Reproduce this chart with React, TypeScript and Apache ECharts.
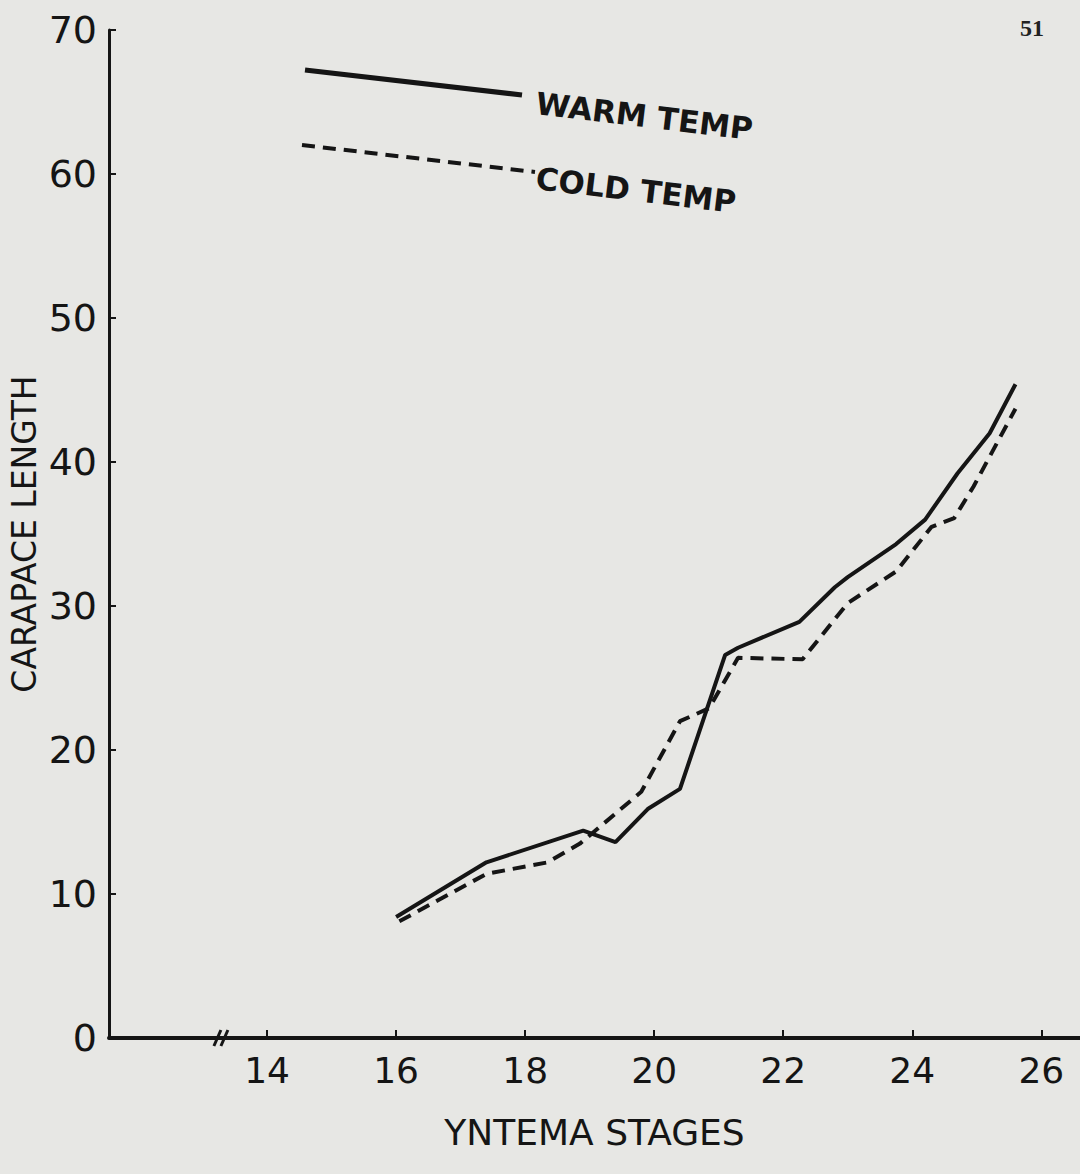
import React, { useEffect, useRef } from 'react';
import * as echarts from 'echarts';

// ---- data ----
const warmStages = [16.0, 17.4, 18.9, 19.4, 19.9, 20.4, 21.1, 21.3, 22.25, 22.8, 23.0, 23.75, 24.2, 24.7, 25.2, 25.6];
const warmLength = [8.4, 12.2, 14.4, 13.6, 15.9, 17.3, 26.6, 27.1, 28.9, 31.3, 32.0, 34.3, 36.0, 39.2, 42.0, 45.4];
const coldStages = [16.05, 17.4, 18.35, 18.85, 19.8, 20.4, 20.85, 21.3, 22.3, 23.0, 23.75, 24.3, 24.65, 24.95, 25.6];
const coldLength = [8.1, 11.4, 12.2, 13.5, 17.1, 22.0, 22.9, 26.4, 26.3, 30.2, 32.4, 35.5, 36.1, 38.3, 43.7];
const stageTicks = [14, 16, 18, 20, 22, 24, 26];
const seriesNames = ['WARM TEMP', 'COLD TEMP'];
const xAxisTitle = 'YNTEMA STAGES';
const yAxisTitle = 'CARAPACE LENGTH';
const pageNumber = '51';
const breakStage = 13.3;

export default function App() {
  const ref = useRef<HTMLDivElement>(null);
  useEffect(() => {
    if (!ref.current) return;
    const chart = echarts.init(ref.current, null, { renderer: 'svg' });
    const font = 'DejaVu Sans';
    const ink = '#151515';
    const pair = (xs: number[], ys: number[]) => xs.map((x, i) => [x, ys[i]]);
    chart.setOption({
      animation: false,
      backgroundColor: '#e7e7e4',
      grid: { left: 108, right: 0, top: 30, bottom: 136 },
      xAxis: {
        type: 'value',
        min: 11.55,
        max: 26.6,
        splitLine: { show: false },
        axisLine: { lineStyle: { color: ink, width: 4 } },
        axisTick: { inside: true, length: 8, customValues: stageTicks, lineStyle: { color: ink, width: 2 } },
        axisLabel: { customValues: stageTicks, fontFamily: font, fontSize: 36, color: ink, margin: 14 },
        name: xAxisTitle,
        nameLocation: 'middle',
        nameGap: 76,
        nameMoveOverlap: false,
        nameTextStyle: { fontFamily: font, fontSize: 36, color: ink },
      },
      yAxis: {
        type: 'value',
        min: 0,
        max: 70,
        interval: 10,
        splitLine: { show: false },
        axisLine: { lineStyle: { color: ink, width: 3 } },
        axisTick: { inside: true, length: 7, lineStyle: { color: ink, width: 2 } },
        axisLabel: { fontFamily: font, fontSize: 38, color: ink, margin: 12 },
        name: yAxisTitle,
        nameLocation: 'middle',
        nameGap: 68,
        nameRotate: 90,
        nameMoveOverlap: false,
        nameTextStyle: { fontFamily: font, fontSize: 33, color: ink },
      },
      series: [
        {
          name: seriesNames[0],
          type: 'line',
          data: pair(warmStages, warmLength),
          showSymbol: false,
          lineStyle: { color: ink, width: 4 },
        },
        {
          name: seriesNames[1],
          type: 'line',
          data: pair(coldStages, coldLength),
          showSymbol: false,
          lineStyle: { color: ink, width: 4, type: [13, 8] },
        },
      ],
    });
    const bp = chart.convertToPixel({ gridIndex: 0 }, [breakStage, 0]) as number[];
    chart.setOption({
      graphic: [
        { type: 'line', shape: { x1: bp[0] - 8, y1: bp[1] + 8, x2: bp[0] - 1, y2: bp[1] - 8 }, style: { stroke: ink, lineWidth: 3 } },
        { type: 'line', shape: { x1: bp[0] - 1, y1: bp[1] + 8, x2: bp[0] + 6, y2: bp[1] - 8 }, style: { stroke: ink, lineWidth: 3 } },
        { type: 'line', shape: { x1: 305, y1: 70, x2: 522, y2: 95 }, style: { stroke: ink, lineWidth: 5 } },
        { type: 'line', shape: { x1: 302, y1: 145, x2: 535, y2: 172 }, style: { stroke: ink, lineWidth: 4, lineDash: [13, 8] } },
        {
          type: 'text', x: 536, y: 103, rotation: -0.12,
          style: { text: seriesNames[0], fontFamily: font, fontWeight: 'bold', fontSize: 31, fill: ink, align: 'left', verticalAlign: 'middle' },
        },
        {
          type: 'text', x: 536, y: 178, rotation: -0.12,
          style: { text: seriesNames[1], fontFamily: font, fontWeight: 'bold', fontSize: 31, fill: ink, align: 'left', verticalAlign: 'middle' },
        },
        {
          type: 'text', x: 1032, y: 28,
          style: { text: pageNumber, fontFamily: 'Liberation Serif', fontWeight: 'bold', fontSize: 24, fill: '#222', align: 'center', verticalAlign: 'middle' },
        },
      ],
    });
    return () => chart.dispose();
  }, []);
  return <div ref={ref} style={{ position: 'fixed', left: 0, top: 0, width: 1080, height: 1174 }} />;
}
